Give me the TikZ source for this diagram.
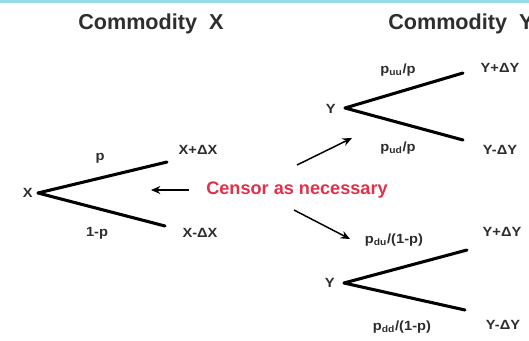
\documentclass[tikz,border=0pt]{standalone}
\usepackage{fontspec}
\setmainfont{Liberation Sans}
\newfontfamily\labfont[FakeStretch=1.1]{Liberation Sans}
\usetikzlibrary{arrows.meta}
\definecolor{censred}{RGB}{226,48,72}
\definecolor{labgray}{RGB}{45,45,45}
\definecolor{topcyan}{RGB}{150,220,228}
\begin{document}
\begin{tikzpicture}[x=0.75pt,y=-0.75pt,
  branch/.style={line width=2.3pt,line cap=round},
  ptr/.style={line width=1.1pt,-{Stealth[length=7pt,width=6pt]}},
  lab/.style={font=\labfont\bfseries\fontsize{10}{11}\selectfont,text=labgray,inner sep=0pt},
  title/.style={font=\bfseries\fontsize{16.2}{18}\selectfont,text=black!82,inner sep=0pt}]
\useasboundingbox (0,0) rectangle (529,340);
\fill[topcyan] (0,0) rectangle (529,3);
% titles
\node[title,anchor=base west] (tx) at (78,29) {Commodity\ \ X};
\node[title,anchor=base west] (ty) at (388,29) {Commodity\ \ Y};
% left tree
\coordinate (xa) at (38,193);
\coordinate (xu) at (167,162);
\coordinate (xd) at (165,226);
\node[lab,anchor=east] (xl) at (33,193) {X};
\draw[branch] (xa) -- (xu);
\draw[branch] (xa) -- (xd);
\node[lab] (pl) at (100,158) {p};
\node[lab] (ql) at (97,233) {1-p};
\node[lab] (xpu) at (198,150) {X+ΔX};
\node[lab] (xpd) at (200,233) {X-ΔX};
% censor
\node[font=\bfseries\fontsize{13.6}{15}\selectfont,text=censred,inner sep=0pt] (cen) at (297,190) {Censor as necessary};
\coordinate (lt) at (151,190);
\draw[ptr] (189,190) -- (lt);
\coordinate (ua) at (352,138);
\coordinate (da) at (350,239);
\draw[ptr] (297,165) -- (ua);
\draw[ptr] (294,210) -- (da);
% upper Y tree
\coordinate (ya) at (345,108);
\coordinate (yu) at (463,73);
\coordinate (yd) at (463,140);
\node[lab,anchor=east] (yl) at (336,109) {Y};
\draw[branch] (ya) -- (yu);
\draw[branch] (ya) -- (yd);
\node[lab] (puu) at (398,70) {p\textsubscript{uu}/p};
\node[lab] (pud) at (398,148) {p\textsubscript{ud}/p};
\node[lab] (yuu) at (500,68) {Y+ΔY};
\node[lab] (yud) at (500,150) {Y-ΔY};
% lower Y tree
\coordinate (za) at (344,283);
\coordinate (zu) at (467,250);
\coordinate (zd) at (465,310);
\node[lab,anchor=east] (zl) at (335,283) {Y};
\draw[branch] (za) -- (zu);
\draw[branch] (za) -- (zd);
\node[lab] (pdu) at (394,240) {p\textsubscript{du}/(1-p)};
\node[lab] (pdd) at (402,327) {p\textsubscript{dd}/(1-p)};
\node[lab] (ydu) at (502,232) {Y+ΔY};
\node[lab] (ydd) at (503,325) {Y-ΔY};
\end{tikzpicture}
\end{document}
